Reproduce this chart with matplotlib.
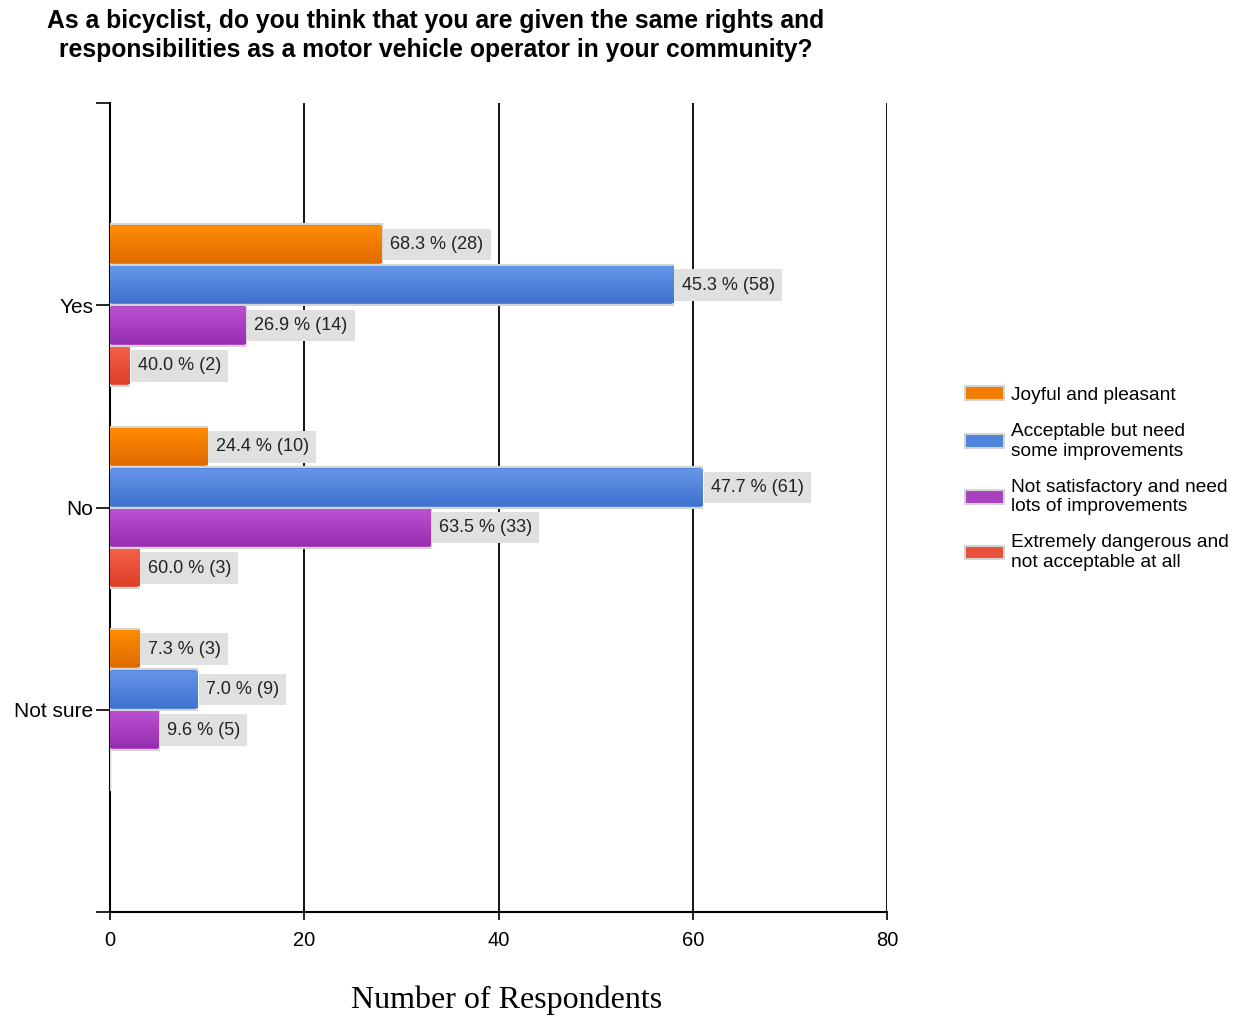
import numpy as np
import matplotlib.pyplot as plt
from matplotlib.colors import LinearSegmentedColormap
from matplotlib.patches import Patch

# data
answers = ['Yes', 'No', 'Not sure']
series = ['Joyful and pleasant',
          'Acceptable but need\nsome improvements',
          'Not satisfactory and need\nlots of improvements',
          'Extremely dangerous and\nnot acceptable at all']
counts = [
    [28, 10, 3],
    [58, 61, 9],
    [14, 33, 5],
    [2, 3, 0],
]
percents = [
    [68.3, 24.4, 7.3],
    [45.3, 47.7, 7.0],
    [26.9, 63.5, 9.6],
    [40.0, 60.0, 0.0],
]

# (light, dark) pairs for the gradient fill
colors = [('#ff8c00', '#e06a00'),
          ('#6595e8', '#3f72cf'),
          ('#bb50d2', '#9630b0'),
          ('#f56048', '#dc4028')]
solid = ['#f07c00', '#4f84dc', '#a840c0', '#e8503a']

plt.rcParams['font.family'] = ['Liberation Sans', 'DejaVu Sans']

fig = plt.figure(figsize=(12.38, 10.17), dpi=100)
ax = fig.add_axes([0.0889, 0.1032, 0.6276, 0.7955])

bar_h = 0.2
offsets = [-0.3, -0.1, 0.1, 0.3]
y = np.arange(len(answers))

for i, name in enumerate(series):
    ys = y + offsets[i]
    bars = ax.barh(ys, counts[i], height=bar_h, color=solid[i],
                   edgecolor='#d4d4d4', linewidth=1.5, zorder=3, label=name)
    cmap = LinearSegmentedColormap.from_list('g%d' % i, colors[i])
    for b, c, p, yy in zip(bars, counts[i], percents[i], ys):
        if c == 0:
            continue
        grad = np.linspace(0, 1, 64).reshape(-1, 1)
        ax.imshow(grad, cmap=cmap, aspect='auto', zorder=4,
                  extent=(0, c, yy + bar_h / 2 - 0.01, yy - bar_h / 2 + 0.01))
        ax.annotate('%.1f %% (%d)' % (p, c), xy=(c, yy), xytext=(6, 0),
                    textcoords='offset points', va='center', ha='left',
                    fontsize=13, color='#222222', zorder=5,
                    bbox=dict(boxstyle='square,pad=0.4', fc='#e0e0e0',
                              ec='none'))

ax.set_xlim(0, 80)
ax.set_ylim(3, -1)
ax.set_xticks([0, 20, 40, 60, 80])
ax.set_yticks([-1, 0, 1, 2, 3])
ax.set_yticklabels([''] + answers + [''])
ax.tick_params(axis='y', length=10, width=1.2, labelsize=15, pad=2)
ax.tick_params(axis='x', length=6, width=1.2, labelsize=14.5, pad=8)
for gx in [20, 40, 60, 80]:
    ax.axvline(gx, color='black', linewidth=1.3, zorder=1)
for side in ['top', 'right']:
    ax.spines[side].set_visible(False)
ax.spines['left'].set_linewidth(1.5)
ax.spines['bottom'].set_linewidth(1.5)

fig.text(0.352, 0.991, 'As a bicyclist, do you think that you are given the same rights and\n'
         'responsibilities as a motor vehicle operator in your community?',
         ha='center', va='top', fontsize=17.8, fontweight='bold', linespacing=1.25)
fig.text(0.409, 0.016, 'Number of Respondents', ha='center', va='center',
         fontsize=23, family=['Liberation Serif', 'DejaVu Serif'])

handles = [Patch(facecolor=solid[i], edgecolor='#d4d4d4', linewidth=1.5)
           for i in range(len(series))]
fig.legend(handles, series, loc='upper left', bbox_to_anchor=(0.766, 0.637),
           frameon=False, fontsize=13.75, handlelength=2.0, handleheight=0.73,
           labelspacing=1.0, handletextpad=0.4, borderpad=0.4)

fig.savefig('out.png', dpi=100)
